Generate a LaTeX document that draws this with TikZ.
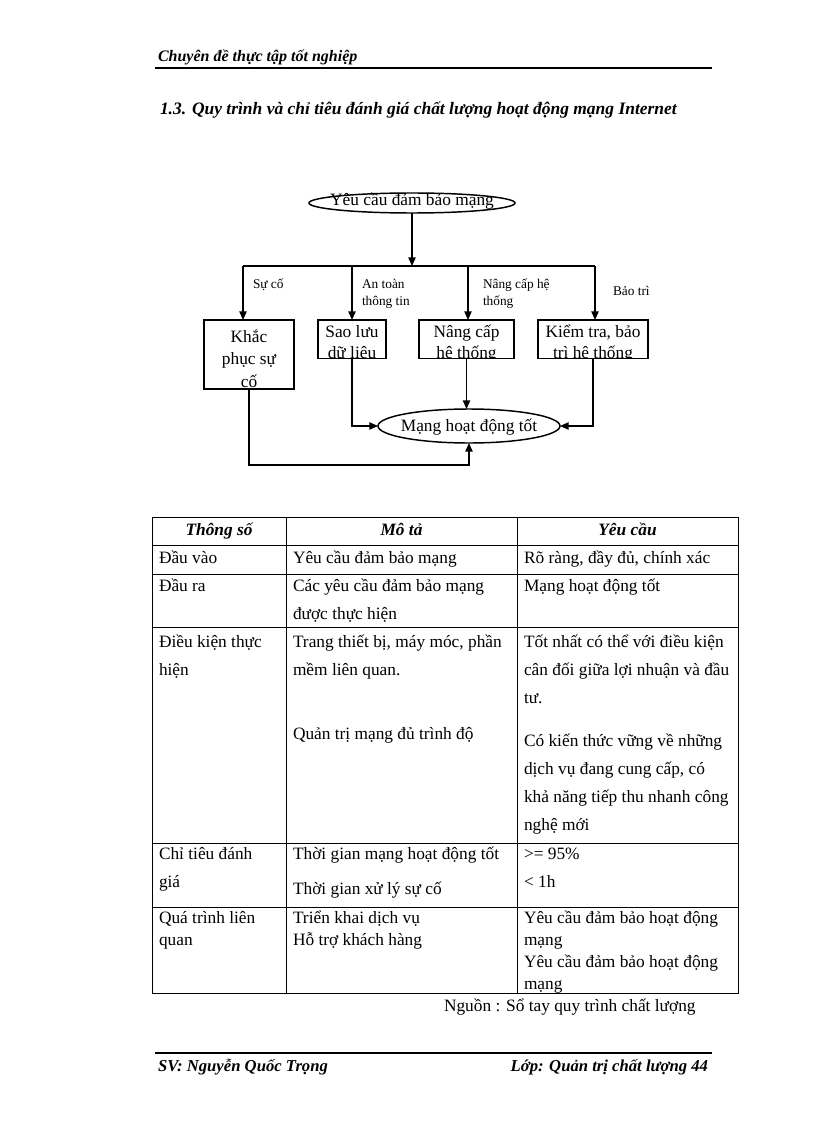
\documentclass[tikz,border=0pt]{standalone}
\usepackage{fontspec}
\setmainfont{Liberation Serif}
\usetikzlibrary{shapes.geometric,arrows.meta}
\begin{document}
\begin{tikzpicture}[x=0.75pt,y=-0.75pt,
 every node/.style={inner sep=0pt, outer sep=0pt},
 txt/.style={anchor=base west, font=\fontsize{13}{15}\selectfont},
 ctxt/.style={anchor=base, font=\fontsize{13}{15}\selectfont},
 lbl/.style={anchor=base west, font=\fontsize{10}{12}\selectfont},
 hd/.style={anchor=base, font=\fontsize{13}{15}\selectfont\bfseries\itshape},
 box/.style={draw, line width=1.1pt, rectangle, inner sep=0pt},
 oval/.style={draw, line width=1.1pt, ellipse, inner sep=0pt},
 conn/.style={line width=1.1pt},
 arr/.style={conn, -{Triangle[length=6.5pt,width=5.5pt]}},
 grid/.style={line width=0.75pt},
 rulel/.style={line width=2.2pt},
 script/.style={font=\fontsize{12}{14}\selectfont\bfseries\itshape},
 fscript/.style={font=\fontsize{12.5}{14}\selectfont\bfseries\itshape},
]
\fill[white] (0,0) rectangle (816,1123);
\useasboundingbox (0,0) rectangle (816,1123);

% header / footer
\node[script, anchor=base west] (hdr) at (158,62) {Chuyên đề thực tập tốt nghiệp};
\draw[rulel] (155,68) -- (712,68);
\node[anchor=base west, font=\fontsize{13.1}{16}\selectfont\bfseries\itshape] (title) at (160,115) {1.3. Quy trình và chỉ tiêu đánh giá chất lượng hoạt động mạng Internet};
\draw[rulel] (155,1053) -- (712,1053);
\node[fscript, anchor=base west] (ftl) at (158,1071) {SV: Nguyễn Quốc Trọng};
\node[fscript, anchor=base east] (ftr) at (708,1071) {Lớp: Quản trị chất lượng 44};

% flow diagram
\node[oval, minimum width=154.5pt, minimum height=15pt] (req) at (412,203) {};
\node[ctxt] (reqt) at (412,205.5) {Yêu cầu đảm bảo mạng};

\node[box, minimum width=67.5pt, minimum height=51.75pt] (khac) at (249,354.5) {};
\begin{scope}
 \clip (khac.south west) rectangle (khac.north east);
 \node[ctxt] (khac1) at (249,342) {Khắc};
 \node[ctxt] (khac2) at (249,364.5) {phục sự};
 \node[ctxt] (khac3) at (249,387.5) {cố};
\end{scope}

\node[box, minimum width=51pt, minimum height=28.9pt] (sao) at (352,339.25) {};
\begin{scope}
 \clip (sao.south west) rectangle (sao.north east);
 \node[ctxt] (sao1) at (352,337) {Sao lưu};
 \node[ctxt] (sao2) at (352,358.5) {dữ liệu};
\end{scope}

\node[box, minimum width=71.25pt, minimum height=28.9pt] (nang) at (466.5,339.25) {};
\begin{scope}
 \clip (nang.south west) rectangle (nang.north east);
 \node[ctxt] (nang1) at (466.5,337) {Nâng cấp};
 \node[ctxt] (nang2) at (466.5,358.5) {hệ thống};
\end{scope}

\node[box, minimum width=82.5pt, minimum height=28.9pt] (kiem) at (593,339.25) {};
\begin{scope}
 \clip (kiem.south west) rectangle (kiem.north east);
 \node[ctxt] (kiem1) at (593,337) {Kiểm tra, bảo};
 \node[ctxt] (kiem2) at (593,358.5) {trì hệ thống};
\end{scope}

\node[oval, minimum width=136.5pt, minimum height=25.5pt] (mang) at (469,426) {};
\node[ctxt] (mangt) at (469,431) {Mạng hoạt động tốt};

% labels
\node[lbl] (l1) at (253,288) {Sự cố};
\node[lbl] (l2a) at (362,288) {An toàn};
\node[lbl] (l2b) at (362,305) {thông tin};
\node[lbl] (l3a) at (483,288) {Nâng cấp hệ};
\node[lbl] (l3b) at (483,305) {thống};
\node[lbl] (l4) at (613,295) {Bảo trì};

% connectors
\coordinate (bus) at (412,266);
\coordinate (b1) at (243,266);
\coordinate (b2) at (352,266);
\coordinate (b3) at (468,266);
\coordinate (b4) at (595,266);
\draw[arr] (req.south) -- (bus);
\draw[conn] (b1) -- (b4);
\draw[arr] (b1) -- (b1 |- khac.north);
\draw[arr] (b2) -- (b2 |- sao.north);
\draw[arr] (b3) -- (b3 |- nang.north);
\draw[arr] (b4) -- (b4 |- kiem.north);

\coordinate (kb) at (249,465);
\draw[arr] (sao.south) |- (mang.west);
\draw[arr] (nang.south) -- (nang.south |- mang.north);
\draw[arr] (kiem.south) |- (mang.east);
\draw[arr] (khac.south) -- (kb) -| (mang.south);

% table
\draw[grid] (152,517) rectangle (738,993);
\foreach \yy in {545,574,627,843,907} \draw[grid] (152,\yy) -- (738,\yy);
\foreach \xx in {286,517} \draw[grid] (\xx,517) -- (\xx,993);

\node[hd] (h1) at (219,535) {Thông số};
\node[hd] (h2) at (401.5,535) {Mô tả};
\node[hd] (h3) at (627.5,535) {Yêu cầu};

\node[txt] (a1) at (159,563) {Đầu vào};
\node[txt] (b1t) at (293,563) {Yêu cầu đảm bảo mạng};
\node[txt] (c1) at (524,563) {Rõ ràng, đầy đủ, chính xác};

\node[txt] (a2) at (159,591) {Đầu ra};
\node[txt] (b2t) at (293,591) {Các yêu cầu đảm bảo mạng};
\node[txt] (b2u) at (293,619) {được thực hiện};
\node[txt] (c2) at (524,591) {Mạng hoạt động tốt};

\node[txt] (a3) at (159,647) {Điều kiện thực};
\node[txt] (a3b) at (159,675) {hiện};
\node[txt] (b3t) at (293,647) {Trang thiết bị, máy móc, phần};
\node[txt] (b3u) at (293,675) {mềm liên quan.};
\node[txt] (b3v) at (293,739) {Quản trị mạng đủ trình độ};
\node[txt] (c3a) at (524,647) {Tốt nhất có thể với điều kiện};
\node[txt] (c3b) at (524,675) {cân đối giữa lợi nhuận và đầu};
\node[txt] (c3c) at (524,703) {tư.};
\node[txt] (c3d) at (524,746) {Có kiến thức vững về những};
\node[txt] (c3e) at (524,774) {dịch vụ đang cung cấp, có};
\node[txt] (c3f) at (524,802) {khả năng tiếp thu nhanh công};
\node[txt] (c3g) at (524,830) {nghệ mới};

\node[txt] (a4) at (159,859) {Chỉ tiêu đánh};
\node[txt] (a4b) at (159,887) {giá};
\node[txt] (b4t) at (293,859) {Thời gian mạng hoạt động tốt};
\node[txt] (b4u) at (293,894) {Thời gian xử lý sự cố};
\node[txt] (c4a) at (524,859) {>= 95\%};
\node[txt] (c4b) at (524,887) {< 1h};

\node[txt] (a5) at (159,923) {Quá trình liên};
\node[txt] (a5b) at (159,945) {quan};
\node[txt] (b5t) at (293,923) {Triển khai dịch vụ};
\node[txt] (b5u) at (293,945) {Hỗ trợ khách hàng};
\node[txt] (c5a) at (524,923) {Yêu cầu đảm bảo hoạt động};
\node[txt] (c5b) at (524,945) {mạng};
\node[txt] (c5c) at (524,967) {Yêu cầu đảm bảo hoạt động};
\node[txt] (c5d) at (524,989) {mạng};

\node[txt] (src) at (444,1011) {Nguồn : Sổ tay quy trình chất lượng};
\end{tikzpicture}
\end{document}
